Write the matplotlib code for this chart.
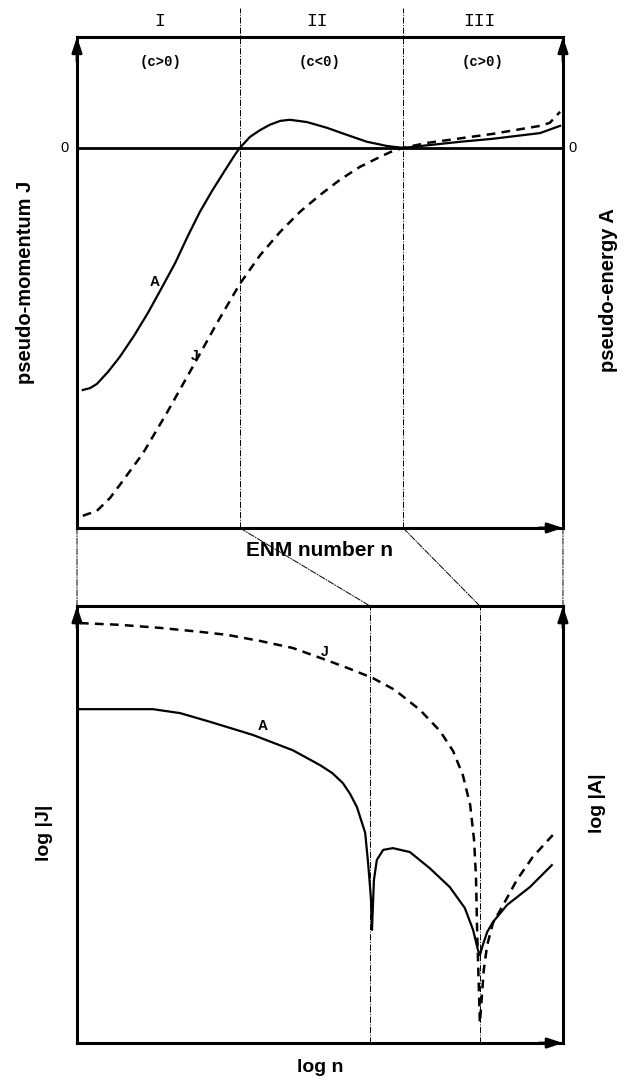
import numpy as np
import matplotlib.pyplot as plt
from matplotlib.patches import ConnectionPatch

# ENM number n (scaled 0..1 across the axis) and curve values (arbitrary units)
n_A = [0.012, 0.027, 0.041, 0.064, 0.088, 0.117, 0.146, 0.171, 0.202, 0.228, 0.253, 0.278,
       0.305, 0.325, 0.335, 0.356, 0.377, 0.397, 0.418, 0.438, 0.473, 0.514, 0.556, 0.597,
       0.638, 0.671, 0.788, 0.856, 0.953, 0.994]
A = [-0.637, -0.632, -0.621, -0.589, -0.550, -0.495, -0.434, -0.376, -0.303, -0.232, -0.168,
     -0.113, -0.058, -0.018, 0.0, 0.029, 0.047, 0.061, 0.071, 0.074, 0.068, 0.053, 0.034,
     0.016, 0.005, 0.0, 0.016, 0.024, 0.039, 0.058]

n_J = [0.012, 0.041, 0.068, 0.088, 0.136, 0.185, 0.239, 0.288, 0.335, 0.377, 0.418, 0.459,
       0.500, 0.541, 0.582, 0.623, 0.650, 0.671, 0.720, 0.856, 0.953, 0.973, 0.994]
J = [-0.968, -0.955, -0.921, -0.887, -0.803, -0.697, -0.574, -0.461, -0.358, -0.282, -0.221,
     -0.168, -0.124, -0.084, -0.050, -0.024, -0.008, 0.0, 0.013, 0.037, 0.058, 0.066, 0.095]

# log n (scaled 0..1) and log|J|, log|A| (arbitrary units)
logn_J = [0.006, 0.088, 0.171, 0.253, 0.309, 0.377, 0.444, 0.514, 0.562, 0.609, 0.654, 0.706,
          0.747, 0.774, 0.794, 0.809, 0.817, 0.821, 0.823, 0.825, 0.827, 0.829, 0.833, 0.837,
          0.844, 0.856, 0.877, 0.905, 0.938, 0.979]
logJ = [0.961, 0.957, 0.950, 0.941, 0.934, 0.920, 0.904, 0.876, 0.856, 0.835, 0.808, 0.762,
        0.714, 0.668, 0.613, 0.545, 0.465, 0.380, 0.275, 0.197, 0.121, 0.046, 0.105, 0.167,
        0.224, 0.275, 0.316, 0.373, 0.426, 0.476]

logn_A = [0.006, 0.088, 0.156, 0.212, 0.274, 0.362, 0.444, 0.500, 0.525, 0.547, 0.562, 0.576,
          0.593, 0.599, 0.603, 0.605, 0.607, 0.609, 0.611, 0.617, 0.630, 0.650, 0.685, 0.726,
          0.767, 0.798, 0.815, 0.825, 0.829, 0.835, 0.844, 0.856, 0.885, 0.932, 0.977]
logA = [0.764, 0.764, 0.764, 0.755, 0.735, 0.705, 0.670, 0.636, 0.618, 0.595, 0.570, 0.540,
        0.481, 0.412, 0.357, 0.327, 0.259, 0.316, 0.373, 0.419, 0.442, 0.446, 0.437, 0.400,
        0.357, 0.309, 0.259, 0.213, 0.201, 0.224, 0.254, 0.277, 0.316, 0.357, 0.407]

region_edges = [0.335, 0.671]    # c changes sign
zero_edges = [0.603, 0.829]      # same points on the log axis
region_names = ['I', 'II', 'III']
region_x = [0.171, 0.494, 0.829]
c_signs = ['(c>0)', '(c<0)', '(c>0)']
c_x = [0.171, 0.5, 0.835]

sans = 'Liberation Sans'
mono = 'Liberation Mono'

fig = plt.figure(figsize=(6.24, 10.89), dpi=100)
ax = fig.add_axes([0.1234, 0.5152, 0.7788, 0.4509])
ax2 = fig.add_axes([0.1234, 0.0422, 0.7788, 0.4013])

for a in (ax, ax2):
    a.set_xticks([])
    a.set_yticks([])
    for s in a.spines.values():
        s.set_linewidth(2.2)
    a.set_xlim(0, 1)
    for xy, xyt in [((0, 1), (0, 0.95)), ((1, 1), (1, 0.95)), ((1, 0), (0.95, 0))]:
        a.annotate('', xy=xy, xycoords='axes fraction', xytext=xyt, textcoords='axes fraction',
                   arrowprops=dict(arrowstyle='-|>,head_length=0.9,head_width=0.3',
                                   color='k', lw=2, shrinkA=0, shrinkB=0))

ax.set_ylim(-1, 0.292)
ax2.set_ylim(0, 1)

# top panel
ax.axhline(0, color='k', lw=2)
ax.plot(n_A, A, color='k', lw=1.6)
ax.plot(n_J, J, color='k', lw=1.8, dashes=(3.5, 2.5))
for xe in region_edges:
    ax.plot([xe, xe], [-1, 0.368], color='k', lw=0.7, ls='-.', clip_on=False)
for nm, xr in zip(region_names, region_x):
    ax.text(xr, 0.332, nm, family=mono, fontsize=13, ha='center', va='center')
for cs, xc in zip(c_signs, c_x):
    ax.text(xc, 0.226, cs, family=mono, fontsize=10, fontweight='bold', ha='center', va='center')
ax.text(-0.025, 0, '0', family=sans, fontsize=10.5, ha='center', va='center')
ax.text(1.02, 0, '0', family=sans, fontsize=10.5, ha='center', va='center')
ax.text(0.160, -0.353, 'A', family=sans, fontsize=10, fontweight='bold', ha='center', va='center')
ax.text(0.243, -0.547, 'J', family=sans, fontsize=10, fontweight='bold', ha='center', va='center')
ax.text(-0.107, 0.50, 'pseudo-momentum J', transform=ax.transAxes, family=sans, fontsize=14.5,
        fontweight='bold', rotation=90, ha='center', va='center')
ax.text(1.093, 0.485, 'pseudo-energy A', transform=ax.transAxes, family=sans, fontsize=14.5,
        fontweight='bold', rotation=90, ha='center', va='center')
ax.text(0.5, -0.045, 'ENM number n', transform=ax.transAxes, family=sans, fontsize=15,
        fontweight='bold', ha='center', va='center')

# bottom panel
ax2.plot(logn_A, logA, color='k', lw=1.6)
ax2.plot(logn_J, logJ, color='k', lw=1.8, dashes=(3.5, 2.5))
for xe in zero_edges:
    ax2.axvline(xe, color='k', lw=0.7, ls='-.')
ax2.text(0.381, 0.725, 'A', family=sans, fontsize=10, fontweight='bold', ha='center', va='center')
ax2.text(0.510, 0.895, 'J', family=sans, fontsize=10, fontweight='bold', ha='center', va='center')
ax2.text(-0.066, 0.48, 'log |J|', transform=ax2.transAxes, family=sans, fontsize=14,
         fontweight='bold', rotation=90, ha='center', va='center')
ax2.text(1.072, 0.549, 'log |A|', transform=ax2.transAxes, family=sans, fontsize=14,
         fontweight='bold', rotation=90, ha='center', va='center')
ax2.text(0.5, -0.057, 'log n', transform=ax2.transAxes, family=sans, fontsize=14,
         fontweight='bold', ha='center', va='center')

# links between the two panels
links = [(0, 0), (1, 1)] + list(zip(region_edges, zero_edges))
for x1, x2 in links:
    fig.add_artist(ConnectionPatch(xyA=(x1, -1), coordsA=ax.transData,
                                   xyB=(x2, 1), coordsB=ax2.transData,
                                   color='k', lw=0.7, ls='-.'))

plt.savefig('out.png', dpi=100)
